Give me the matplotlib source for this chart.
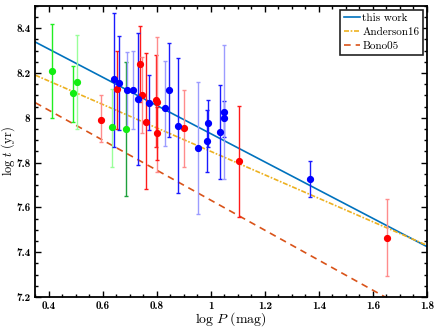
import matplotlib
matplotlib.use('Agg')
import matplotlib.pyplot as plt
import numpy as np
from matplotlib.ticker import MultipleLocator, FuncFormatter

plt.rcParams['mathtext.fontset'] = 'cm'
plt.rcParams['font.family'] = ['cmr10', 'DejaVu Serif']
plt.rcParams['axes.formatter.use_mathtext'] = True

# data: log P, log t, lower / upper end of error bar, style
log_p = [0.41, 0.49, 0.505, 0.635, 0.687,
         0.592, 0.652, 0.737, 0.745, 0.761, 0.797, 0.802, 0.80, 0.902, 1.103, 1.653,
         0.64, 0.66, 0.688, 0.711, 0.731, 0.77, 0.83, 0.846, 0.88, 0.954, 0.99, 0.985,
         1.033, 1.05, 1.048, 1.368]
log_t = [8.21, 8.11, 8.16, 7.96, 7.95,
         7.99, 8.13, 8.24, 8.10, 7.98, 8.08, 8.07, 7.93, 7.955, 7.805, 7.465,
         8.175, 8.155, 8.125, 8.125, 8.085, 8.065, 8.045, 8.125, 7.965, 7.865, 7.975, 7.895,
         7.935, 8.00, 8.025, 7.725]
t_low = [8.00, 7.98, 7.95, 7.78, 7.65,
         7.89, 7.95, 8.07, 7.93, 7.68, 7.87, 7.76, 7.81, 7.78, 7.555, 7.295,
         7.87, 7.945, 7.955, 7.95, 7.79, 7.945, 7.875, 7.915, 7.665, 7.57, 7.87, 7.757,
         7.725, 7.915, 7.725, 7.645]
t_high = [8.42, 8.23, 8.37, 8.13, 8.25,
          8.10, 8.30, 8.41, 8.27, 8.29, 8.28, 8.36, 8.05, 8.125, 8.055, 7.637,
          8.47, 8.365, 8.295, 8.30, 8.38, 8.19, 8.255, 8.335, 8.265, 8.16, 8.08, 8.035,
          8.145, 8.075, 8.325, 7.805]
style = ['g', 'g', 'gl', 'gl', 'gd',
         'rl', 'r', 'r', 'rl', 'r', 'r', 'rl', 'r', 'rl', 'r', 'rl',
         'b', 'b', 'bl', 'bl', 'b', 'b', 'bl', 'b', 'b', 'bl', 'b', 'b',
         'b', 'b', 'bl', 'b']

# fitted relations log t = a + b log P
fit_names = ['this work', 'Anderson16', 'Bono05']
fit_a = [8.559, 8.374, 8.302]
fit_b = [-0.63, -0.524, -0.67]

bar_colors = {'g': '#22ee22', 'gl': '#99ff99', 'gd': '#1ea03c',
              'r': '#ff1a1a', 'rl': '#ff8c8c', 'b': '#1a1aff', 'bl': '#9c9cff'}
dot_colors = {'g': '#11ee11', 'gl': '#11ee11', 'gd': '#11ee11',
              'r': '#ff0000', 'rl': '#ff0000', 'b': '#0000ff', 'bl': '#0000ff'}
line_colors = ['#0072bd', '#edb120', '#d95319']
line_styles = ['-', (0, (3, 1, 1, 1)), (0, (4, 3))]

fig = plt.figure(figsize=(4.36, 3.27), dpi=100)
ax = fig.add_axes([0.081, 0.092, 0.898, 0.89])

xs = np.array([0.35, 1.8])
for name, a, b, c, ls in zip(fit_names, fit_a, fit_b, line_colors, line_styles):
    ax.plot(xs, a + b * xs, color=c, ls=ls, lw=1.2, label=name, zorder=2)

for x, y, lo, hi, s in zip(log_p, log_t, t_low, t_high, style):
    ax.errorbar([x], [y], yerr=[[y - lo], [hi - y]], fmt='o', ms=4.2,
                color=dot_colors[s], mfc=dot_colors[s], mec=dot_colors[s],
                ecolor=bar_colors[s], elinewidth=1.0, capsize=1.6, capthick=1.0,
                zorder=3)

ax.set_xlim(0.35, 1.8)
ax.set_ylim(7.2, 8.5)
ax.xaxis.set_major_locator(MultipleLocator(0.2))
ax.xaxis.set_minor_locator(MultipleLocator(0.05))
ax.yaxis.set_major_locator(MultipleLocator(0.2))
ax.yaxis.set_minor_locator(MultipleLocator(0.05))
fmt = FuncFormatter(lambda v, p: '%g' % round(v, 3))
ax.xaxis.set_major_formatter(fmt)
ax.yaxis.set_major_formatter(fmt)
ax.tick_params(which='both', direction='in', top=True, right=True, width=1.0,
               labelsize=8, labelfontfamily='cmb10')
ax.tick_params(axis='x', pad=3)
ax.tick_params(axis='y', pad=3.5)
ax.tick_params(which='major', length=4.5)
ax.tick_params(which='minor', length=2.5)
for sp in ax.spines.values():
    sp.set_linewidth(1.3)

ax.set_xlabel(r'$\log\,P\ \mathrm{(mag)}$', fontsize=10)
ax.set_ylabel(r'$\log\,t\ \mathrm{(yr)}$', fontsize=9)
ax.xaxis.set_label_coords(0.5, -0.046)
ax.yaxis.set_label_coords(-0.046, 0.5)

leg = ax.legend(loc='upper right', fontsize=8, fancybox=False, framealpha=1,
                edgecolor='#222222', handlelength=1.5, handletextpad=0.2,
                borderpad=0.3, labelspacing=0.4, borderaxespad=0.35)
leg.get_frame().set_linewidth(1.2)

fig.savefig('out.png', dpi=100)
